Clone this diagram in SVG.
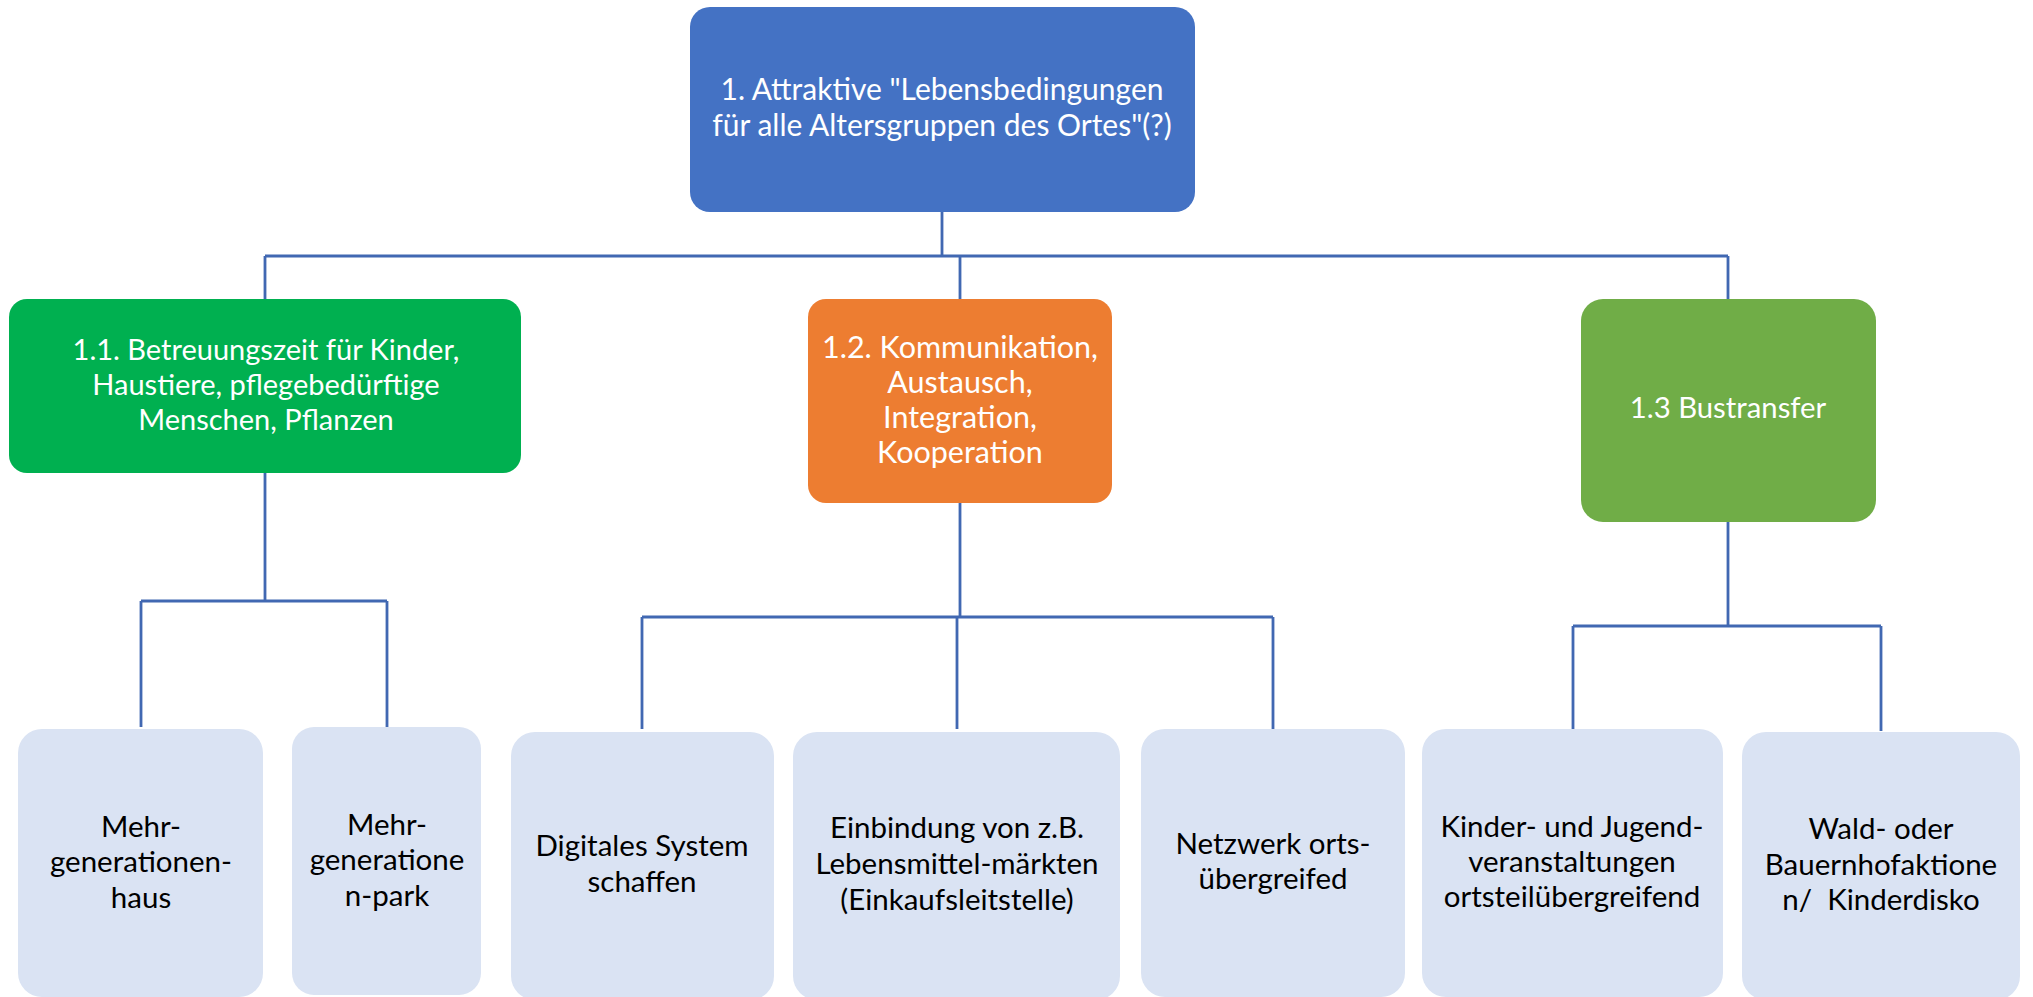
<svg xmlns="http://www.w3.org/2000/svg" width="2033" height="997" viewBox="0 0 2033 997">
<style>
  .conn{fill:none;stroke:#4168B2;stroke-width:2.8;stroke-linecap:butt}
  .t{font-family:Lato,"Open Sans","Liberation Sans",sans-serif;text-anchor:middle}
  .w{fill:#FFFFFF}
  .k{fill:#000000;font-size:29.5px}
  .leaf{fill:#DAE3F3}
</style>
<rect width="2033" height="997" fill="#FFFFFF"/>
<g id="connectors">
  <path class="conn" d="M942,212 V256 M265,256 H1728 M265,256 V299 M960,256 V299 M1728,256 V299"/>
  <path class="conn" d="M265,473 V601 M141,601 H387 M141,601 V727 M387,601 V727"/>
  <path class="conn" d="M960,503 V617 M642,617 H1273 M642,617 V729 M957,617 V729 M1273,617 V729"/>
  <path class="conn" d="M1728,522 V626 M1573,626 H1881 M1573,626 V729 M1881,626 V731"/>
</g>
<g id="n1">
  <rect x="690" y="7" width="505" height="205" rx="20" fill="#4472C4"/>
  <text class="t w" font-size="30" x="942" y="100">1. Attraktive "Lebensbedingungen</text>
  <text class="t w" font-size="30" x="942" y="136">für alle Altersgruppen des Ortes"(?)</text>
</g>
<g id="n11">
  <rect x="9" y="299" width="512" height="174" rx="18" fill="#00B050"/>
  <text class="t w" font-size="29" x="266" y="360">1.1. Betreuungszeit für Kinder,</text>
  <text class="t w" font-size="29" x="266" y="395">Haustiere, pflegebedürftige</text>
  <text class="t w" font-size="29" x="266" y="430">Menschen, Pflanzen</text>
</g>
<g id="n12">
  <rect x="808" y="299" width="304" height="204" rx="18" fill="#ED7D31"/>
  <text class="t w" font-size="30.5" x="960" y="358">1.2. Kommunikation,</text>
  <text class="t w" font-size="30.5" x="960" y="393">Austausch,</text>
  <text class="t w" font-size="30.5" x="960" y="428">Integration,</text>
  <text class="t w" font-size="30.5" x="960" y="463">Kooperation</text>
</g>
<g id="n13">
  <rect x="1581" y="299" width="295" height="223" rx="22" fill="#70AD47"/>
  <text class="t w" font-size="29.3" x="1728" y="418">1.3 Bustransfer</text>
</g>
<g id="n111">
  <rect class="leaf" x="18" y="729" width="245" height="268" rx="24"/>
  <text class="t k" x="141" y="837">Mehr-</text>
  <text class="t k" x="141" y="872">generationen-</text>
  <text class="t k" x="141" y="908">haus</text>
</g>
<g id="n112">
  <rect class="leaf" x="292" y="727" width="189" height="268" rx="22"/>
  <text class="t k" x="387" y="835">Mehr-</text>
  <text class="t k" x="387" y="870">generatione</text>
  <text class="t k" x="387" y="906">n-park</text>
</g>
<g id="n121">
  <rect class="leaf" x="511" y="732" width="263" height="268" rx="24"/>
  <text class="t k" x="642" y="856">Digitales System</text>
  <text class="t k" x="642" y="892">schaffen</text>
</g>
<g id="n122">
  <rect class="leaf" x="793" y="732" width="327" height="268" rx="24"/>
  <text class="t k" x="957" y="838">Einbindung von z.B.</text>
  <text class="t k" x="957" y="874">Lebensmittel-märkten</text>
  <text class="t k" x="957" y="910">(Einkaufsleitstelle)</text>
</g>
<g id="n123">
  <rect class="leaf" x="1141" y="729" width="264" height="268" rx="24"/>
  <text class="t k" x="1273" y="854">Netzwerk orts-</text>
  <text class="t k" x="1273" y="889">übergreifed</text>
</g>
<g id="n131">
  <rect class="leaf" x="1422" y="729" width="301" height="268" rx="24"/>
  <text class="t k" x="1572" y="837">Kinder- und Jugend-</text>
  <text class="t k" x="1572" y="872">veranstaltungen</text>
  <text class="t k" x="1572" y="907">ortsteilübergreifend</text>
</g>
<g id="n132">
  <rect class="leaf" x="1742" y="732" width="278" height="268" rx="24"/>
  <text class="t k" x="1881" y="839">Wald- oder</text>
  <text class="t k" x="1881" y="875">Bauernhofaktione</text>
  <text class="t k" x="1881" y="910" xml:space="preserve" style="white-space:pre">n/  Kinderdisko</text>
</g>
</svg>
